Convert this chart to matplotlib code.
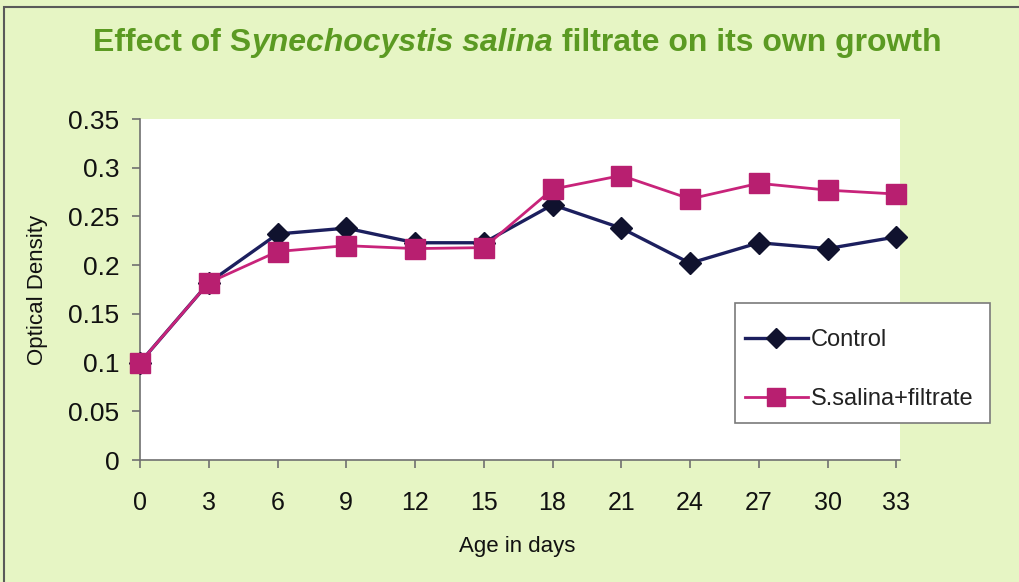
import matplotlib
matplotlib.use("Agg")
import matplotlib.pyplot as plt
from matplotlib.patches import Rectangle

plt.rcParams['font.family'] = ['Liberation Sans', 'DejaVu Sans']

# growth readings (optical density) every 3 days
days = [0, 3, 6, 9, 12, 15, 18, 21, 24, 27, 30, 33]
control = [0.100, 0.182, 0.232, 0.238, 0.223, 0.223, 0.262, 0.238, 0.202, 0.223, 0.217, 0.229]
filtrate = [0.100, 0.182, 0.214, 0.220, 0.217, 0.218, 0.278, 0.292, 0.268, 0.284, 0.277, 0.273]
y_ticks = [0, 0.05, 0.1, 0.15, 0.2, 0.25, 0.3, 0.35]
y_tick_labels = ["0", "0.05", "0.1", "0.15", "0.2", "0.25", "0.3", "0.35"]

BG = '#e6f5c4'
TITLE_GREEN = '#5b9a22'
W, H = 1019, 582

fig = plt.figure(figsize=(W / 100, H / 100), dpi=100, facecolor=BG)
# frame line along the top and left edge
fig.patches.append(Rectangle((0.004, -0.02), 1.0, 1.008, transform=fig.transFigure,
                             facecolor='none', edgecolor='#5a5a5a', linewidth=1.5))
ax = fig.add_axes([0.1374, 0.2096, 0.7456, 0.5859], facecolor='white')

ax.plot(days, control, color='#1c1f5e', linewidth=2.4, marker='D', markersize=11,
        markerfacecolor='#10122e', markeredgecolor='#10122e', label='Control',
        clip_on=False, zorder=3)
ax.plot(days, filtrate, color='#c8237a', linewidth=2.0, marker='s', markersize=14,
        markerfacecolor='#b81f70', markeredgecolor='#b81f70', label='S.salina+filtrate',
        clip_on=False, zorder=4)

ax.set_xlim(0, 33.15)
ax.set_ylim(0, 0.35)
ax.set_xticks(days)
ax.set_xticklabels([str(d) for d in days], fontsize=18)
ax.set_yticks(y_ticks)
ax.set_yticklabels(y_tick_labels, fontsize=19)
for side in ['top', 'right']:
    ax.spines[side].set_visible(False)
for side in ['left', 'bottom']:
    ax.spines[side].set_color('#707070')
    ax.spines[side].set_linewidth(1.2)
ax.tick_params(axis='both', direction='out', length=6, width=1.2, color='#707070',
               labelcolor='#111111')
ax.tick_params(axis='x', pad=16)
ax.tick_params(axis='y', pad=9)

ax.set_xlabel('Age in days', fontsize=16, color='#111111')
ax.set_ylabel('Optical Density', fontsize=16, color='#111111')
ax.xaxis.set_label_coords(0.497, -0.255)
ax.xaxis.label.set_va('center')
ax.yaxis.set_label_coords(-0.135, 0.5)
ax.yaxis.label.set_va('center')

# legend box drawn separately so its padding can be set freely
ax.add_patch(Rectangle((735 / W, 1 - 423 / H), 255 / W, 120 / H,
                       transform=fig.transFigure, facecolor='white',
                       edgecolor='#7a7a7a', linewidth=1.2, zorder=9, clip_on=False))
leg = ax.legend(loc='upper left', bbox_to_anchor=(745 / W, 1 - 329 / H),
                bbox_transform=fig.transFigure, borderaxespad=0, borderpad=0,
                fontsize=17, frameon=False, handlelength=2.65, labelspacing=1.57,
                handletextpad=0.15, markerscale=0.9)
leg.set_zorder(10)
for t in leg.get_texts():
    t.set_color('#222222')

# title with the species name in italics, built from three pieces
fig.canvas.draw()
renderer = fig.canvas.get_renderer()
pieces = [("Effect of S", 'normal'), ("ynechocystis salina", 'italic'),
          (" filtrate on its own growth", 'normal')]
texts = []
for s, style in pieces:
    t = fig.text(0, 1 - 43 / H, s, fontsize=23, fontweight='bold', style=style,
                 color=TITLE_GREEN, va='center', ha='left')
    texts.append(t)
widths = [t.get_window_extent(renderer).width for t in texts]
x = 517 - sum(widths) / 2
for t, w in zip(texts, widths):
    t.set_x(x / fig.bbox.width)
    x += w

fig.savefig('out.png', dpi=100, facecolor=BG)
